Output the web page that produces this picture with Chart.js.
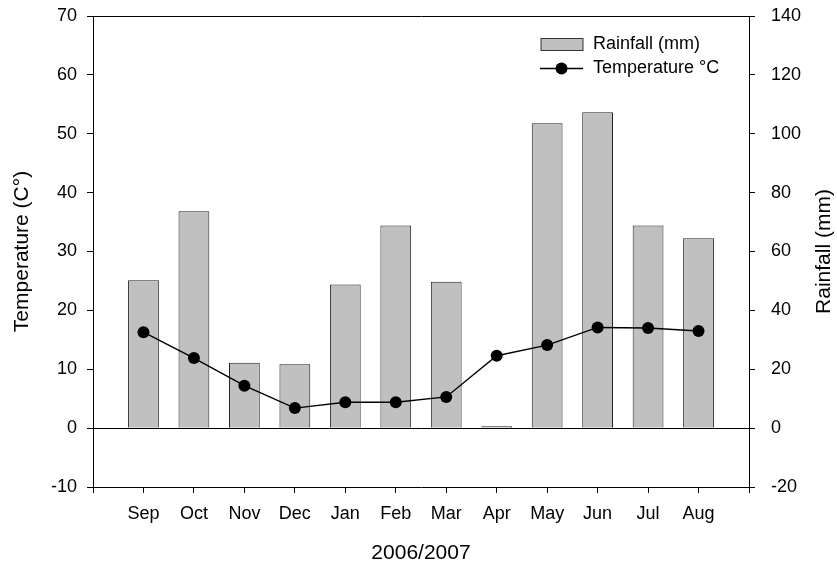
<!DOCTYPE html>
<html>
<head>
<meta charset="utf-8">
<script src="https://cdn.jsdelivr.net/npm/chart.js@4"></script>
<style>
  html, body { margin: 0; padding: 0; background: #fff; }
  #wrap { width: 837px; height: 567px; }
</style>
</head>
<body>
<div id="wrap"><canvas id="c" width="837" height="567"></canvas></div>
<script>
// Monthly climate record, September 2006 to August 2007
const months = ['Sep', 'Oct', 'Nov', 'Dec', 'Jan', 'Feb', 'Mar', 'Apr', 'May', 'Jun', 'Jul', 'Aug'];
const rainfall = [50.2, 73.7, 22.2, 21.7, 48.8, 68.8, 49.7, 0.6, 103.6, 107.3, 68.8, 64.5];   // mm
const temperature = [16.3, 11.9, 7.2, 3.4, 4.4, 4.4, 5.3, 12.3, 14.1, 17.1, 17.0, 16.5];     // °C

const tempAxis = { min: -10, max: 70, step: 10 };
const rainAxis = { min: -20, max: 140, step: 20 };

// Empty slots at both ends give the half-gap before Sep and after Aug
const xLabels = [''].concat(months, ['']);
const pad = arr => [null].concat(arr, [null]);

const FONT = "'Liberation Sans', Arial, sans-serif";
const BAR_FILL = '#c0c0c0';

// Legend drawn inside the plot, top right
const innerLegend = {
  id: 'innerLegend',
  afterDatasetsDraw(chart) {
    const ctx = chart.ctx;
    ctx.save();
    ctx.font = '18px ' + FONT;
    ctx.textBaseline = 'middle';
    ctx.textAlign = 'left';
    // Rainfall swatch
    ctx.fillStyle = BAR_FILL;
    ctx.fillRect(541, 38.5, 42, 12);
    ctx.strokeStyle = '#333';
    ctx.lineWidth = 1;
    ctx.strokeRect(541, 38.5, 42, 12);
    ctx.fillStyle = '#000';
    ctx.fillText(chart.data.datasets[1].label, 593, 44);
    // Temperature swatch
    ctx.strokeStyle = '#000';
    ctx.lineWidth = 1.3;
    ctx.beginPath();
    ctx.moveTo(540, 68.5);
    ctx.lineTo(583, 68.5);
    ctx.stroke();
    ctx.beginPath();
    ctx.arc(561.5, 68.5, 6, 0, Math.PI * 2);
    ctx.fill();
    ctx.fillText(chart.data.datasets[0].label, 593, 68);
    ctx.restore();
  }
};

// Right-hand axis title, reading bottom to top
const rightTitle = {
  id: 'rightTitle',
  afterDraw(chart) {
    const ctx = chart.ctx;
    const area = chart.chartArea;
    ctx.save();
    ctx.translate(824, (area.top + area.bottom) / 2);
    ctx.rotate(-Math.PI / 2);
    ctx.font = '21px ' + FONT;
    ctx.fillStyle = '#000';
    ctx.textAlign = 'center';
    ctx.textBaseline = 'middle';
    ctx.fillText('Rainfall (mm)', 0, 0);
    ctx.restore();
  }
};

// Fixed axis box sizes so the plot area keeps its place
const fitVertical = w => s => { s.width = w; s.paddingTop = 0; s.paddingBottom = 0; };
const fitHorizontal = h => s => { s.height = h; s.paddingLeft = 0; s.paddingRight = 0; };

new Chart(document.getElementById('c'), {
  data: {
    labels: xLabels,
    datasets: [
      {
        type: 'line',
        label: 'Temperature °C',
        data: pad(temperature),
        yAxisID: 'y',
        borderColor: '#000',
        backgroundColor: '#000',
        borderWidth: 1.4,
        pointRadius: 6,
        pointHoverRadius: 6,
        pointBackgroundColor: '#000',
        pointBorderWidth: 0,
        tension: 0,
        order: 0
      },
      {
        type: 'bar',
        label: 'Rainfall (mm)',
        data: pad(rainfall),
        yAxisID: 'y2',
        backgroundColor: BAR_FILL,
        borderColor: '#222',
        borderWidth: 1,
        categoryPercentage: 1,
        barPercentage: 0.61,
        order: 1
      }
    ]
  },
  options: {
    responsive: false,
    animation: false,
    devicePixelRatio: 1,
    layout: { padding: { top: 16, left: 0, right: 0, bottom: 0 } },
    plugins: {
      legend: { display: false },
      tooltip: { enabled: false }
    },
    scales: {
      x: {
        type: 'category',
        offset: false,
        grid: {
          drawOnChartArea: false,
          drawTicks: true,
          tickLength: 6,
          tickColor: '#000',
          offset: false
        },
        border: { display: true, color: '#000', width: 1 },
        ticks: {
          autoSkip: false,
          maxRotation: 0,
          padding: 10,
          color: '#000',
          font: { family: FONT, size: 18 }
        },
        title: {
          display: true,
          text: '2006/2007',
          color: '#000',
          font: { family: FONT, size: 21 },
          padding: { top: 2, bottom: 1.5 }
        },
        afterFit: fitHorizontal(80)
      },
      y: {
        position: 'left',
        min: tempAxis.min,
        max: tempAxis.max,
        ticks: {
          stepSize: tempAxis.step,
          padding: 10,
          color: '#000',
          font: { family: FONT, size: 18 }
        },
        grid: {
          drawOnChartArea: true,
          tickLength: 6,
          tickColor: '#000',
          color: c => (c.tick && (c.tick.value === 0 || c.tick.value === tempAxis.max)) ? '#000' : 'rgba(0,0,0,0)'
        },
        border: { display: true, color: '#000', width: 1 },
        title: {
          display: true,
          text: 'Temperature (C°)',
          color: '#000',
          font: { family: FONT, size: 21 },
          padding: { top: 10, bottom: 0 }
        },
        afterFit: fitVertical(93)
      },
      y2: {
        position: 'right',
        min: rainAxis.min,
        max: rainAxis.max,
        ticks: {
          stepSize: rainAxis.step,
          padding: 16,
          color: '#000',
          font: { family: FONT, size: 18 }
        },
        grid: {
          drawOnChartArea: false,
          tickLength: 6,
          tickColor: '#000'
        },
        border: { display: true, color: '#000', width: 1 },
        afterFit: fitVertical(88)
      }
    }
  },
  plugins: [innerLegend, rightTitle]
});
</script>
</body>
</html>
